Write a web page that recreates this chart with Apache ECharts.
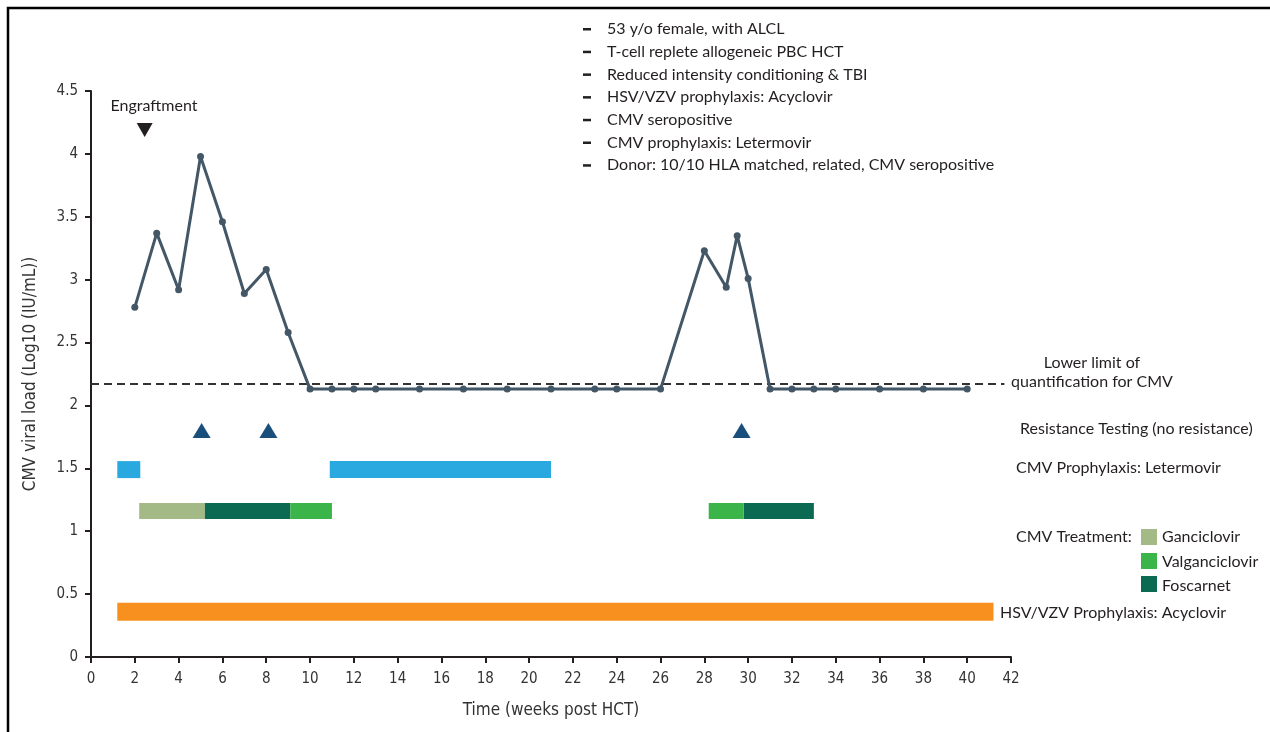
<!DOCTYPE html>
<html><head><meta charset="utf-8">
<script src="https://cdn.jsdelivr.net/npm/echarts@6/dist/echarts.min.js"></script>
<style>html,body{margin:0;padding:0;background:#fff}#c{width:1270px;height:732px}</style>
</head><body><div id="c"></div>
<script>
// ---- data ----
const weeks = [2,3,4,5,6,7,8,9,10,11,12,13,15,17,19,21,23,24,26,28,29,29.5,30,31,32,33,34,36,38,40];
const viralLoad = [2.78,3.37,2.92,3.98,3.46,2.89,3.08,2.58,2.13,2.13,2.13,2.13,2.13,2.13,2.13,2.13,2.13,2.13,2.13,3.23,2.94,3.35,3.01,2.13,2.13,2.13,2.13,2.13,2.13,2.13];
const lloq = 2.17;
const lloqSpan = [0, 41.7];
const engraftment = [[2.45, 4.19]];
const resistanceTests = [[5.05, 1.8],[8.1, 1.8],[29.7, 1.8]];
const letermovirRow = 1.49;
const treatmentRow = 1.16;
const acyclovirRow = 0.36;
const letermovir = [[1.2, 2.25],[10.9, 21.0]];
const ganciclovir = [[2.2, 5.2]];
const foscarnet = [[5.2, 9.1],[29.8, 33.0]];
const valganciclovir = [[9.1, 11.0],[28.2, 29.8]];
const acyclovir = [[1.2, 41.2]];
const xTicks = [0,2,4,6,8,10,12,14,16,18,20,22,24,26,28,30,32,34,36,38,40,42];
const yTicks = [0,0.5,1,1.5,2,2.5,3,3.5,4,4.5];
const infoLines = ['53 y/o female, with ALCL','T-cell replete allogeneic PBC HCT','Reduced intensity conditioning & TBI','HSV/VZV prophylaxis: Acyclovir','CMV seropositive','CMV prophylaxis: Letermovir','Donor: 10/10 HLA matched, related, CMV seropositive'];

// ---- chart ----
const FONT = 'Lato, "Open Sans", sans-serif';
const NARROW = '"Liberation Sans Narrow", "DejaVu Sans Condensed", "Roboto Condensed", sans-serif';
const INK = '#231f20';
const F = '16px ' + FONT;
function barSeries(name, periods, row, color, h){
  return {
    type:'custom', name, z:3,
    data: periods.map(p => [p[0], p[1], row]),
    renderItem: function(params, api){
      const a = api.coord([api.value(0), api.value(2)]);
      const b = api.coord([api.value(1), api.value(2)]);
      return {type:'rect', shape:{x:a[0], y:a[1]-h/2, width:b[0]-a[0], height:h}, style:{fill:color}};
    }
  };
}
const chart = echarts.init(document.getElementById('c'), null, {renderer:'canvas'});
const graphics = [
  {type:'polyline', shape:{points:[[8,732],[8,8],[1270,8]]}, style:{stroke:'#000', lineWidth:2.5, fill:null}},
  {type:'text', x:154, y:106, style:{text:'Engraftment', font:F, fill:INK, align:'center', verticalAlign:'middle'}},
  {type:'text', x:1092, y:363, style:{text:'Lower limit of', font:F, fill:INK, align:'center', verticalAlign:'middle'}},
  {type:'text', x:1092, y:382, style:{text:'quantification for CMV', font:F, fill:INK, align:'center', verticalAlign:'middle'}},
  {type:'text', x:1020, y:429, style:{text:'Resistance Testing (no resistance)', font:F, fill:INK, verticalAlign:'middle'}},
  {type:'text', x:1016, y:468, style:{text:'CMV Prophylaxis: Letermovir', font:F, fill:INK, verticalAlign:'middle'}},
  {type:'text', x:1016, y:537, style:{text:'CMV Treatment:', font:F, fill:INK, verticalAlign:'middle'}},
  {type:'rect', shape:{x:1141, y:529, width:16, height:16}, style:{fill:'#a3b986'}},
  {type:'rect', shape:{x:1141, y:553, width:16, height:16}, style:{fill:'#3bb54a'}},
  {type:'rect', shape:{x:1141, y:576, width:16, height:16}, style:{fill:'#0c6a52'}},
  {type:'text', x:1162, y:537, style:{text:'Ganciclovir', font:F, fill:INK, verticalAlign:'middle'}},
  {type:'text', x:1162, y:562, style:{text:'Valganciclovir', font:F, fill:INK, verticalAlign:'middle'}},
  {type:'text', x:1162, y:586, style:{text:'Foscarnet', font:F, fill:INK, verticalAlign:'middle'}},
  {type:'text', x:1000, y:613, style:{text:'HSV/VZV Prophylaxis: Acyclovir', font:F, fill:INK, verticalAlign:'middle'}}
];
infoLines.forEach((t,i) => {
  graphics.push({type:'rect', shape:{x:583, y:28+i*22.7, width:8, height:2.5}, style:{fill:INK}});
  graphics.push({type:'text', x:607, y:29+i*22.7, style:{text:t, font:F, fill:INK, verticalAlign:'middle'}});
});
chart.setOption({
  animation:false,
  backgroundColor:'#fff',
  grid:{left:91, right:259, top:91, bottom:75, containLabel:false},
  xAxis:{type:'value', min:0, max:42, interval:2,
    name:'Time (weeks post HCT)', nameLocation:'middle', nameGap:45,
    nameTextStyle:{fontFamily:NARROW, fontSize:17, color:'#333'},
    axisLine:{show:true, onZero:false, lineStyle:{color:INK, width:2}},
    axisTick:{show:true, length:6, lineStyle:{color:INK, width:2}},
    axisLabel:{fontFamily:NARROW, fontSize:15, color:'#333', margin:15},
    splitLine:{show:false}},
  yAxis:{type:'value', min:0, max:4.5, interval:0.5,
    name:'CMV viral load (Log10 (IU/mL))', nameLocation:'middle', nameGap:52, nameRotate:90,
    nameTextStyle:{fontFamily:NARROW, fontSize:17, color:'#333'},
    axisLine:{show:true, lineStyle:{color:INK, width:2}},
    axisTick:{show:true, length:6, lineStyle:{color:INK, width:2}},
    axisLabel:{fontFamily:NARROW, fontSize:15, color:'#333', margin:13, formatter: v => String(v)},
    splitLine:{show:false}},
  graphic: graphics,
  series:[
    {type:'line', name:'LLOQ', data: lloqSpan.map(x => [x, lloq]), symbol:'none', z:2,
      lineStyle:{color:'#333', width:2, type:[8,5]}},
    {type:'line', name:'CMV', data: weeks.map((w,i)=>[w, viralLoad[i]]), symbol:'circle', symbolSize:7, showSymbol:true, z:4,
      itemStyle:{color:'#435767'}, lineStyle:{color:'#435767', width:3}},
    {type:'scatter', name:'Engraftment', data: engraftment, symbol:'triangle', symbolRotate:180, symbolSize:[16,14], itemStyle:{color:INK, opacity:1}, z:5},
    {type:'scatter', name:'Resistance', data: resistanceTests, symbol:'triangle', symbolSize:[18,15], itemStyle:{color:'#1a4f7c', opacity:1}, z:5},
    barSeries('Letermovir', letermovir, letermovirRow, '#29a9e0', 17),
    barSeries('Ganciclovir', ganciclovir, treatmentRow, '#a3b986', 16),
    barSeries('Foscarnet', foscarnet, treatmentRow, '#0c6a52', 16),
    barSeries('Valganciclovir', valganciclovir, treatmentRow, '#3bb54a', 16),
    barSeries('Acyclovir', acyclovir, acyclovirRow, '#f7901e', 18)
  ]
});
</script></body></html>
